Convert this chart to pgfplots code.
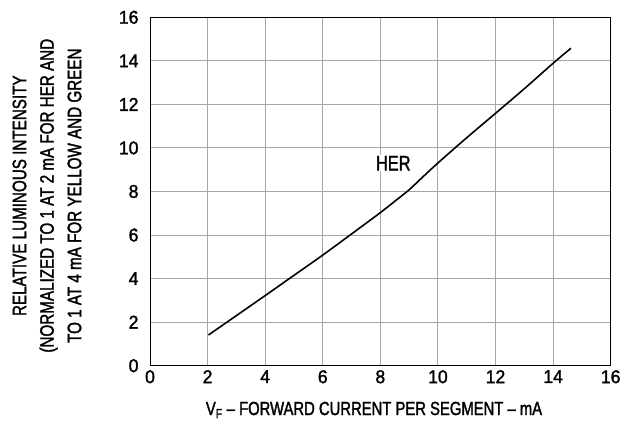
\documentclass[border=0pt]{standalone}
\usepackage{fontspec}
\setmainfont{Liberation Sans}[Ligatures=TeX]
\newfontfamily\cond{Liberation Sans}[FakeStretch=0.78, FakeBold=1.6, Ligatures=TeX]
\newfontfamily\tickfont{Liberation Sans}[FakeStretch=0.95, FakeBold=1.6]
\usepackage{pgfplots}
\pgfplotsset{compat=1.18}
\begin{document}
\begin{tikzpicture}
\path[use as bounding box] (-150pt,-62.3pt) rectangle (470pt,365.7pt);
\begin{axis}[
  at={(0pt,0pt)}, anchor=origin,
  scale only axis, width=460.7pt, height=348.4pt,
  xmin=0, xmax=16, ymin=0, ymax=16,
  xtick={0,2,...,16}, ytick={0,2,...,16},
  grid=major, major grid style={gray!70, line width=0.9pt},
  axis line style={black, line width=1pt},
  tick style={draw=none},
  /pgf/number format/assume math mode=true,
  ticklabel style={font=\fontsize{18.5}{20}\selectfont\tickfont},
  xticklabel style={yshift=-1pt},
  yticklabel style={xshift=-8pt},
]
\addplot[black, line width=1.6pt, smooth, tension=0.5] coordinates {
 (2.03,1.41) (3,2.3) (4,3.22) (5,4.15) (6,5.08) (7,6.05) (8,7.03) (8.5,7.55) (9,8.08) (9.5,8.7) (10,9.31) (11,10.47) (12,11.59) (13,12.72) (14,13.89) (14.62,14.58)
};
\node[fill=white, inner sep=1pt, font=\fontsize{21}{23}\selectfont\cond] at (axis cs:8.45,9.3) {HER};
\end{axis}
\node[rotate=90, align=center, font=\fontsize{19.5}{27.5}\selectfont\cond] at (-103pt,170pt) {RELATIVE LUMINOUS INTENSITY\\(NORMALIZED TO 1 AT 2 mA FOR HER AND\\TO 1 AT 4 mA FOR YELLOW AND GREEN};
\node[font=\fontsize{19}{21}\selectfont\cond] at (224pt,-44.3pt) {V\textsubscript{F} – FORWARD CURRENT PER SEGMENT – mA};
\end{tikzpicture}
\end{document}
